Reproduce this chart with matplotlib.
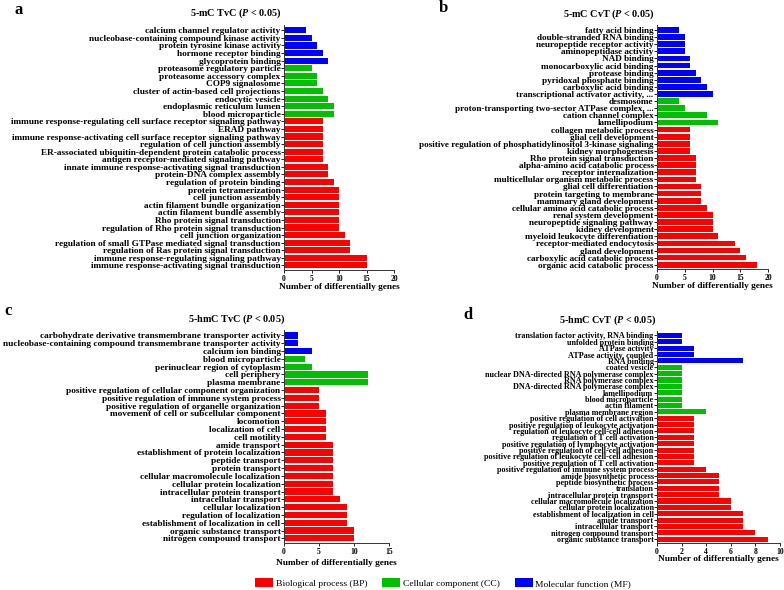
import matplotlib
matplotlib.use("Agg")
import matplotlib.pyplot as plt
from matplotlib.patches import Patch

plt.rcParams['font.family'] = ['Liberation Serif', 'DejaVu Serif']
plt.rcParams['mathtext.fontset'] = 'custom'
plt.rcParams['mathtext.rm'] = 'Liberation Serif:bold'
plt.rcParams['mathtext.it'] = 'Liberation Serif:bold:italic'

RED, GREEN, BLUE = '#FF0000', '#00C000', '#0000FF'

# ---------------- Panel a: 5-mC TvC ----------------
a_terms = [
    "calcium channel regulator activity",
    "nucleobase-containing compound kinase activity",
    "protein tyrosine kinase activity",
    "hormone receptor binding",
    "glycoprotein binding",
    "proteasome regulatory particle",
    "proteasome accessory complex",
    "COP9 signalosome",
    "cluster of actin-based cell projections",
    "endocytic vesicle",
    "endoplasmic reticulum lumen",
    "blood microparticle",
    "immune response-regulating cell surface receptor signaling pathway",
    "ERAD pathway",
    "immune response-activating cell surface receptor signaling pathway",
    "regulation of cell junction assembly",
    "ER-associated ubiquitin-dependent protein catabolic process",
    "antigen receptor-mediated signaling pathway",
    "innate immune response-activating signal transduction",
    "protein-DNA complex assembly",
    "regulation of protein binding",
    "protein tetramerization",
    "cell junction assembly",
    "actin filament bundle organization",
    "actin filament bundle assembly",
    "Rho protein signal transduction",
    "regulation of Rho protein signal transduction",
    "cell junction organization",
    "regulation of small GTPase mediated signal transduction",
    "regulation of Ras protein signal transduction",
    "immune response-regulating signaling pathway",
    "immune response-activating signal transduction",
]
a_values = [4, 5, 6, 7, 8,
            5, 6, 6, 7, 8, 9, 9,
            7, 7, 7, 7, 7, 7, 8, 8, 9, 10, 10, 10, 10, 10, 10, 11, 12, 12, 15, 15]
a_cats = ['MF'] * 5 + ['CC'] * 7 + ['BP'] * 20

# ---------------- Panel b: 5-mC CvT ----------------
b_terms = [
    "fatty acid binding",
    "double-stranded RNA binding",
    "neuropeptide receptor activity",
    "aminopeptidase activity",
    "NAD binding",
    "monocarboxylic acid binding",
    "protease binding",
    "pyridoxal phosphate binding",
    "carboxylic acid binding",
    "transcriptional activator activity, ...",
    "desmosome",
    "proton-transporting two-sector ATPase complex, ...",
    "cation channel complex",
    "lamellipodium",
    "collagen metabolic process",
    "glial cell development",
    "positive regulation of phosphatidylinositol 3-kinase signaling",
    "kidney morphogenesis",
    "Rho protein signal transduction",
    "alpha-amino acid catabolic process",
    "receptor internalization",
    "multicellular organism metabolic process",
    "glial cell differentiation",
    "protein targeting to membrane",
    "mammary gland development",
    "cellular amino acid catabolic process",
    "renal system development",
    "neuropeptide signaling pathway",
    "kidney development",
    "myeloid leukocyte differentiation",
    "receptor-mediated endocytosis",
    "gland development",
    "carboxylic acid catabolic process",
    "organic acid catabolic process",
]
b_values = [4, 5, 5, 5, 6, 6, 7, 8, 9, 10,
            4, 5, 9, 11,
            6, 6, 6, 6, 7, 7, 7, 7, 8, 8, 8, 9, 10, 10, 10, 11, 14, 15, 16, 18]
b_cats = ['MF'] * 10 + ['CC'] * 4 + ['BP'] * 20

# ---------------- Panel c: 5-hmC TvC ----------------
c_terms = [
    "carbohydrate derivative transmembrane transporter activity",
    "nucleobase-containing compound transmembrane transporter activity",
    "calcium ion binding",
    "blood microparticle",
    "perinuclear region of cytoplasm",
    "cell periphery",
    "plasma membrane",
    "positive regulation of cellular component organization",
    "positive regulation of immune system process",
    "positive regulation of organelle organization",
    "movement of cell or subcellular component",
    "locomotion",
    "localization of cell",
    "cell motility",
    "amide transport",
    "establishment of protein localization",
    "peptide transport",
    "protein transport",
    "cellular macromolecule localization",
    "cellular protein localization",
    "intracellular protein transport",
    "intracellular transport",
    "cellular localization",
    "regulation of localization",
    "establishment of localization in cell",
    "organic substance transport",
    "nitrogen compound transport",
]
c_values = [2, 2, 4,
            3, 4, 12, 12,
            5, 5, 5, 6, 6, 6, 6, 7, 7, 7, 7, 7, 7, 7, 8, 9, 9, 9, 10, 10]
c_cats = ['MF'] * 3 + ['CC'] * 4 + ['BP'] * 20

# ---------------- Panel d: 5-hmC CvT ----------------
d_terms = [
    "translation factor activity, RNA binding",
    "unfolded protein binding",
    "ATPase activity",
    "ATPase activity, coupled",
    "RNA binding",
    "coated vesicle",
    "nuclear DNA-directed RNA polymerase complex",
    "RNA polymerase complex",
    "DNA-directed RNA polymerase complex",
    "lamellipodium",
    "blood microparticle",
    "actin filament",
    "plasma membrane region",
    "positive regulation of cell activation",
    "positive regulation of leukocyte activation",
    "regulation of leukocyte cell-cell adhesion",
    "regulation of T cell activation",
    "positive regulation of lymphocyte activation",
    "positive regulation of cell-cell adhesion",
    "positive regulation of leukocyte cell-cell adhesion",
    "positive regulation of T cell activation",
    "positive regulation of immune system process",
    "amide biosynthetic process",
    "peptide biosynthetic process",
    "translation",
    "intracellular protein transport",
    "cellular macromolecule localization",
    "cellular protein localization",
    "establishment of localization in cell",
    "amide transport",
    "intracellular transport",
    "nitrogen compound transport",
    "organic substance transport",
]
d_values = [2, 2, 3, 3, 7,
            2, 2, 2, 2, 2, 2, 2, 4,
            3, 3, 3, 3, 3, 3, 3, 3, 4, 5, 5, 5, 5, 6, 6, 7, 7, 7, 8, 9]
d_cats = ['MF'] * 5 + ['CC'] * 8 + ['BP'] * 20

cat_color = {'BP': RED, 'CC': GREEN, 'MF': BLUE}

W, H = 784, 590
fig = plt.figure(figsize=(W / 100, H / 100), dpi=100)


def px_axes(x0, y0, x1, y1):
    return fig.add_axes([x0 / W, 1 - y1 / H, (x1 - x0) / W, (y1 - y0) / H])


def draw(ax, terms, values, cats, xmax, xticks, lab_fs, title, tx, ty, letter, lx, ly, xlab_y):
    n = len(terms)
    ys = list(range(n))
    ax.barh(ys, values, height=0.8, color=[cat_color[c] for c in cats], edgecolor='none')
    ax.set_ylim(n - 0.4, -0.7)
    ax.set_xlim(0, xmax)
    ax.set_yticks(ys)
    ax.set_yticklabels(terms, fontsize=lab_fs, fontweight='bold')
    ax.set_xticks(xticks)
    ax.set_xticklabels([str(t) for t in xticks], fontsize=5.5, fontweight='bold')
    ax.tick_params(axis='y', length=2, width=0.6, pad=0.5)
    ax.tick_params(axis='x', length=2, width=0.6, pad=1.5)
    for s in ['top', 'right']:
        ax.spines[s].set_visible(False)
    for s in ['left', 'bottom']:
        ax.spines[s].set_linewidth(0.7)
        ax.spines[s].set_color('#333333')
    bb = ax.get_position()
    fig.text((bb.x0 + bb.x1) / 2, 1 - xlab_y / H, "Number of differentially genes",
             ha='center', va='center', fontsize=6.7, fontweight='bold')
    fig.text(tx / W, 1 - ty / H, title, ha='center', va='center', fontsize=7.3,
             fontweight='bold')
    fig.text(lx / W, 1 - ly / H, letter, ha='center', va='center', fontsize=12, fontweight='bold')


ax_a = px_axes(284, 25, 394, 270)
draw(ax_a, a_terms, a_values, a_cats, 20, [0, 5, 10, 15, 20], 6.7,
     r"5-mC TvC ($P$ < 0.05)", 236, 13, 'a', 19, 10, 287)

ax_b = px_axes(657, 25, 768, 269)
draw(ax_b, b_terms, b_values, b_cats, 20, [0, 5, 10, 15, 20], 6.6,
     r"5-mC CvT ($P$ < 0.05)", 609, 14, 'b', 443, 8, 286)

ax_c = px_axes(284, 330, 389, 543)
draw(ax_c, c_terms, c_values, c_cats, 15, [0, 5, 10, 15], 6.7,
     r"5-hmC TvC ($P$ < 0.05)", 237, 319, 'c', 8, 311, 563)

ax_d = px_axes(657, 331, 780, 543)
draw(ax_d, d_terms, d_values, d_cats, 10, [0, 2, 4, 6, 8, 10], 5.9,
     r"5-hmC CvT ($P$ < 0.05)", 608, 320, 'd', 468, 315, 559)

handles = [Patch(facecolor=RED, edgecolor='none'),
           Patch(facecolor=GREEN, edgecolor='none'),
           Patch(facecolor=BLUE, edgecolor='none')]
labels = ["Biological process (BP)", "Cellular component (CC)", "Molecular function (MF)"]
fig.legend(handles, labels, loc='center', bbox_to_anchor=(443 / W, 1 - 583 / H), ncol=3,
           frameon=False, fontsize=6.8, handlelength=1.9, handleheight=1.1,
           handletextpad=0.25, columnspacing=1.6)

fig.savefig('out.png', dpi=100)
